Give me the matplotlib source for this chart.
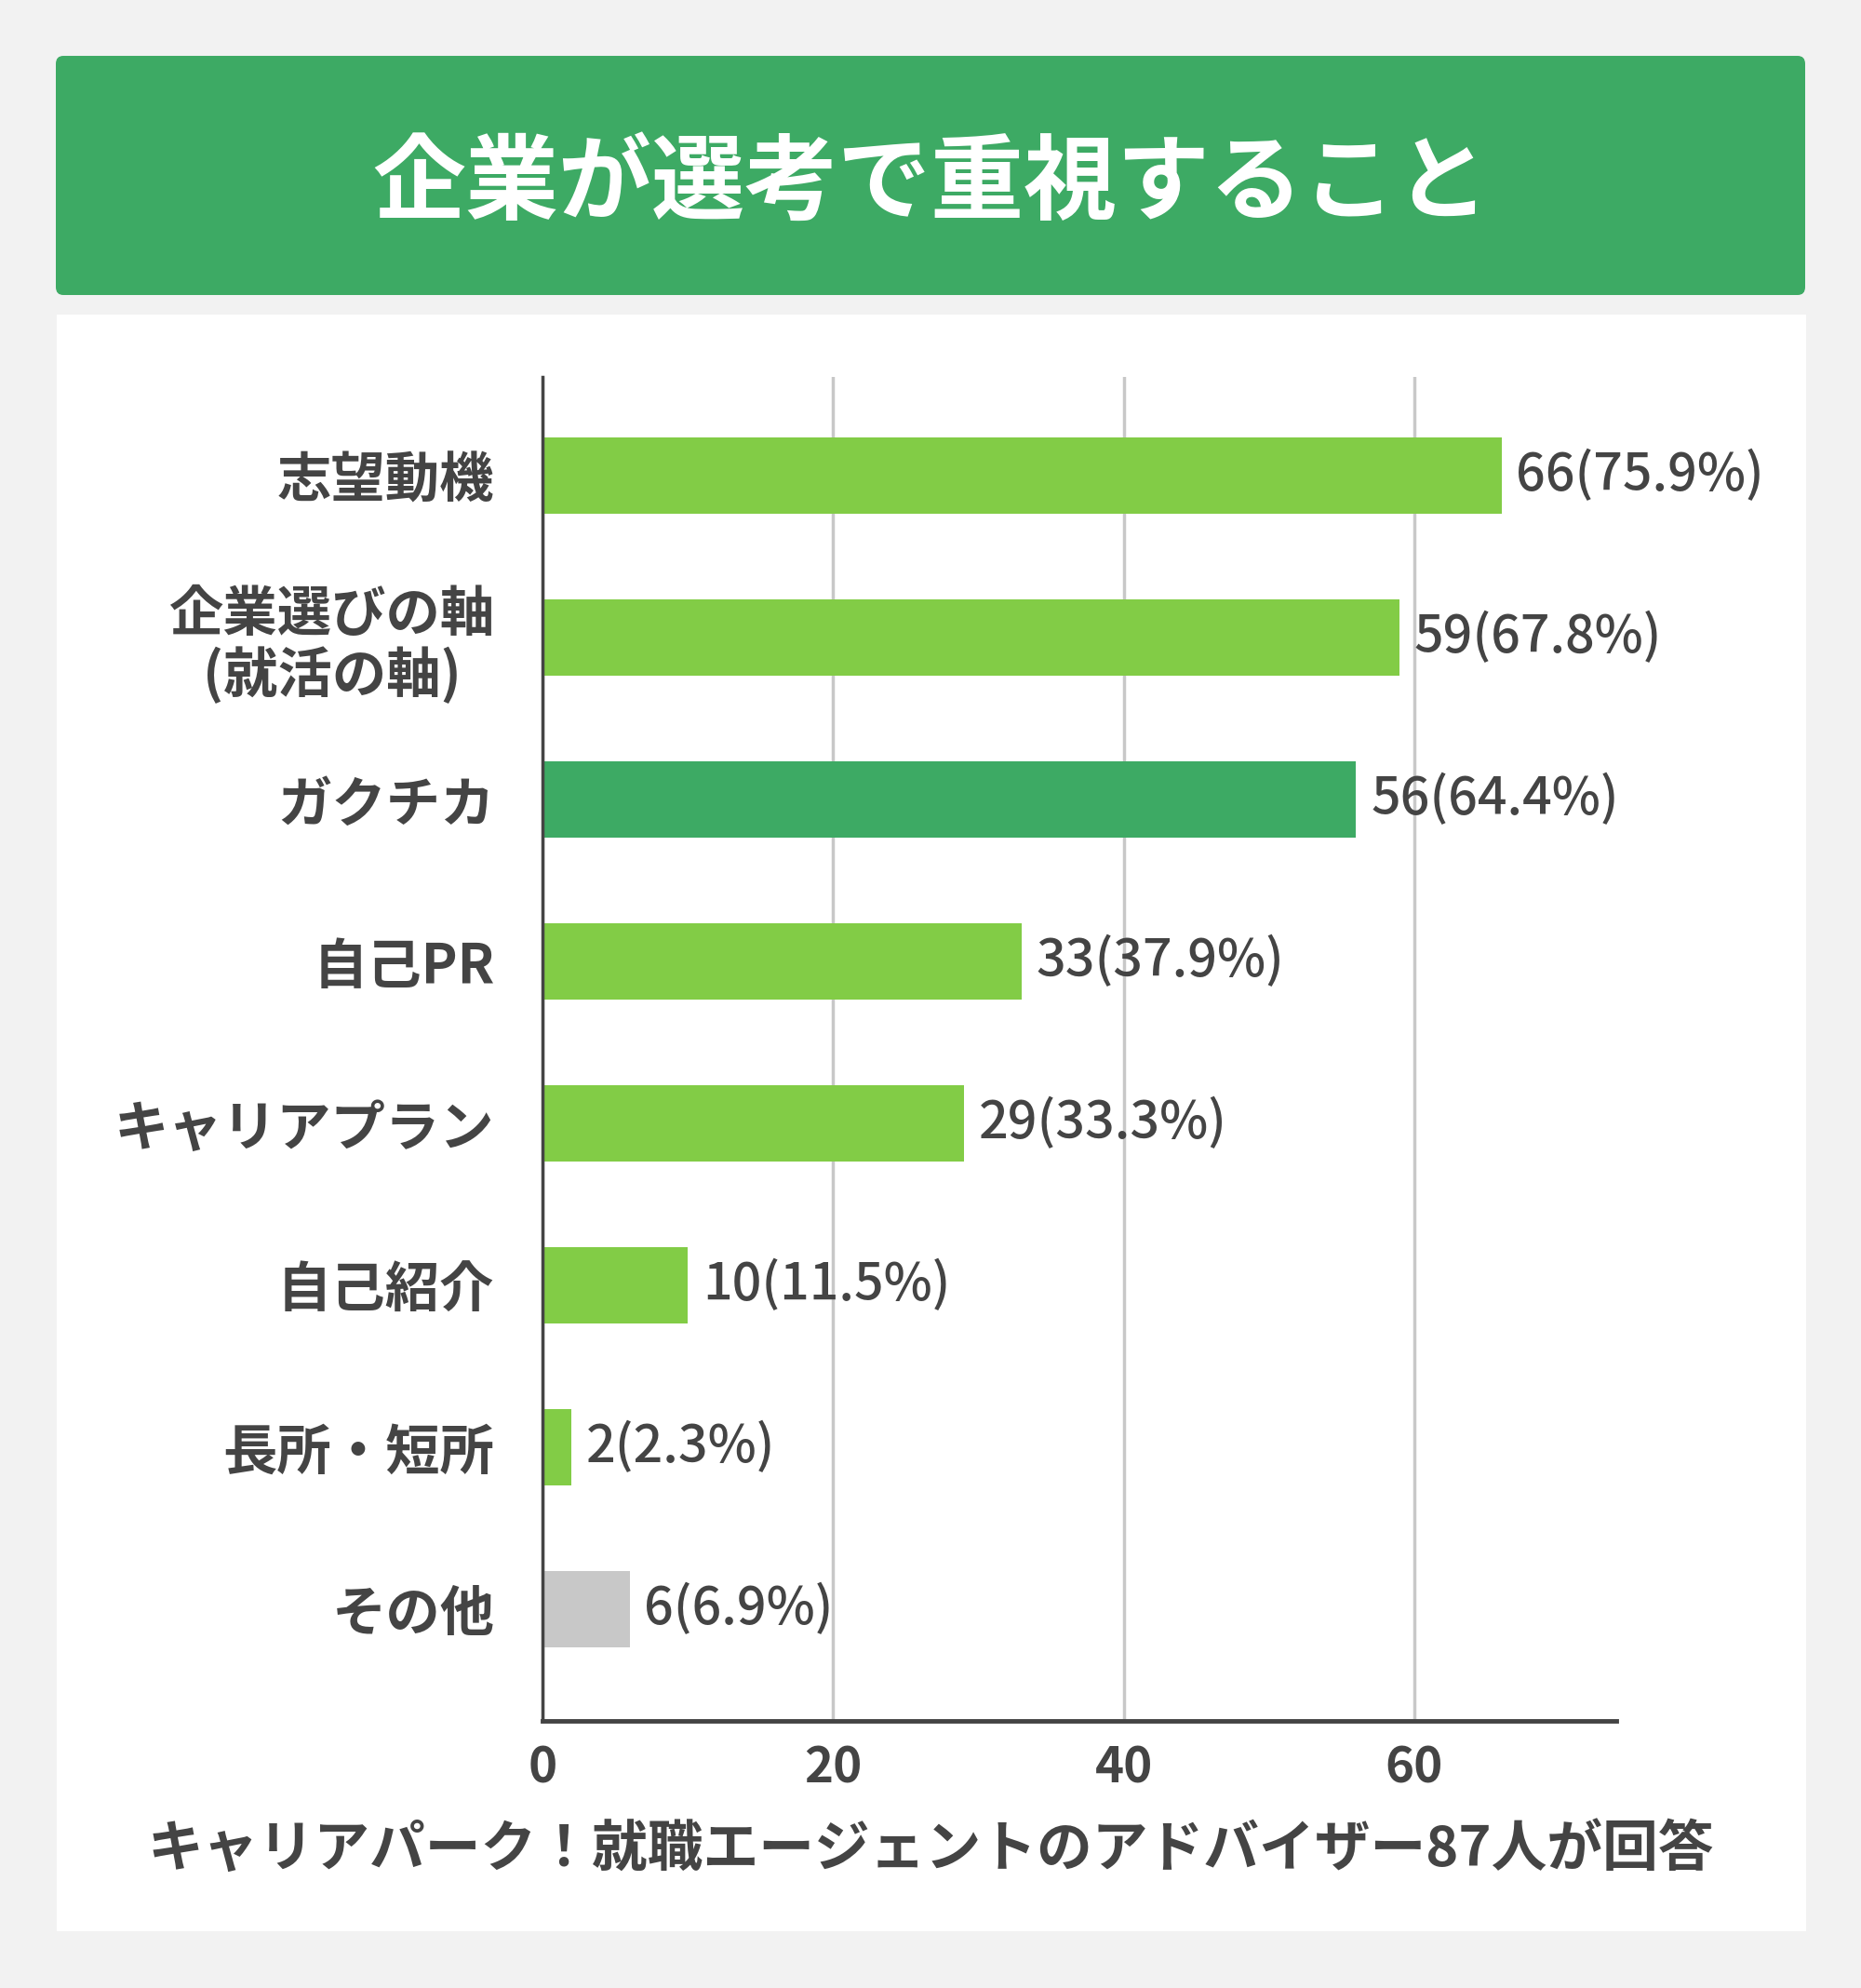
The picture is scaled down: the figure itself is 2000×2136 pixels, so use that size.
import matplotlib
matplotlib.use("Agg")
import matplotlib.pyplot as plt
from matplotlib.patches import FancyBboxPatch, Rectangle

plt.rcParams['font.family'] = ['Noto Sans CJK JP', 'DejaVu Sans']

# data
title = "企業が選考で重視すること"
categories = ["志望動機", "企業選びの軸\n(就活の軸)", "ガクチカ", "自己PR",
              "キャリアプラン", "自己紹介", "長所・短所", "その他"]
counts = [66, 59, 56, 33, 29, 10, 2, 6]
percents = [75.9, 67.8, 64.4, 37.9, 33.3, 11.5, 2.3, 6.9]
bar_colors = ["#82cc46", "#82cc46", "#3daa64", "#82cc46",
              "#82cc46", "#82cc46", "#82cc46", "#c8c8c8"]
xticks = [0, 20, 40, 60]
footer = "キャリアパーク！就職エージェントのアドバイザー87人が回答"

text_col = "#444444"
green = "#3daa64"

fig = plt.figure(figsize=(20, 21.36), dpi=100)
fig.patch.set_facecolor("#f2f2f2")

# title banner
fig.patches.append(FancyBboxPatch((0.03, 0.8516), 0.94, 0.1203,
                                  boxstyle="round,pad=0,rounding_size=0.004",
                                  transform=fig.transFigure, facecolor=green,
                                  edgecolor="none", zorder=-2))
fig.text(0.5, 0.907, title, ha="center", va="center", color="white",
         fontsize=72, fontweight="bold")

# white panel
fig.patches.append(Rectangle((0.0305, 0.0286), 0.94, 0.8132,
                             transform=fig.transFigure, facecolor="white",
                             edgecolor="none", zorder=-2))

ax = fig.add_axes([0.2915, 0.1344, 0.577, 0.676])
ax.set_facecolor("none")
y = list(range(len(categories)))
ax.barh(y, counts, height=0.47, color=bar_colors, zorder=3)

for yi, c, p in zip(y, counts, percents):
    ax.text(c + 1.0, yi, f"{c}({p}%)", va="center", ha="left",
            fontsize=40, color=text_col, fontweight="medium", zorder=4)

ax.set_yticks(y)
ax.set_yticklabels(categories, fontsize=42, fontweight="bold", color=text_col,
                   multialignment="center", linespacing=1.1)
ax.set_ylim(len(categories) - 1 + 0.69, -0.61)
ax.set_xlim(0, 73.9)
ax.set_xticks(xticks)
ax.set_xticklabels([str(t) for t in xticks], fontsize=38, color=text_col,
                   fontweight="semibold")
ax.tick_params(axis="both", length=0)
ax.tick_params(axis="y", pad=37)
ax.tick_params(axis="x", pad=18)

ax.grid(True, axis="x", color="#c8c8c8", linewidth=2.5, zorder=1)
ax.set_axisbelow(True)
for s in ["top", "right"]:
    ax.spines[s].set_visible(False)
ax.spines["left"].set_color(text_col)
ax.spines["left"].set_linewidth(2.5)
ax.spines["bottom"].set_color(text_col)
ax.spines["bottom"].set_linewidth(3.5)
ax.spines["left"].set_zorder(5)

fig.text(0.5, 0.0688, footer, ha="center", va="center", color=text_col,
         fontsize=43, fontweight="bold")

fig.savefig("out.png", dpi=100, facecolor=fig.get_facecolor())
